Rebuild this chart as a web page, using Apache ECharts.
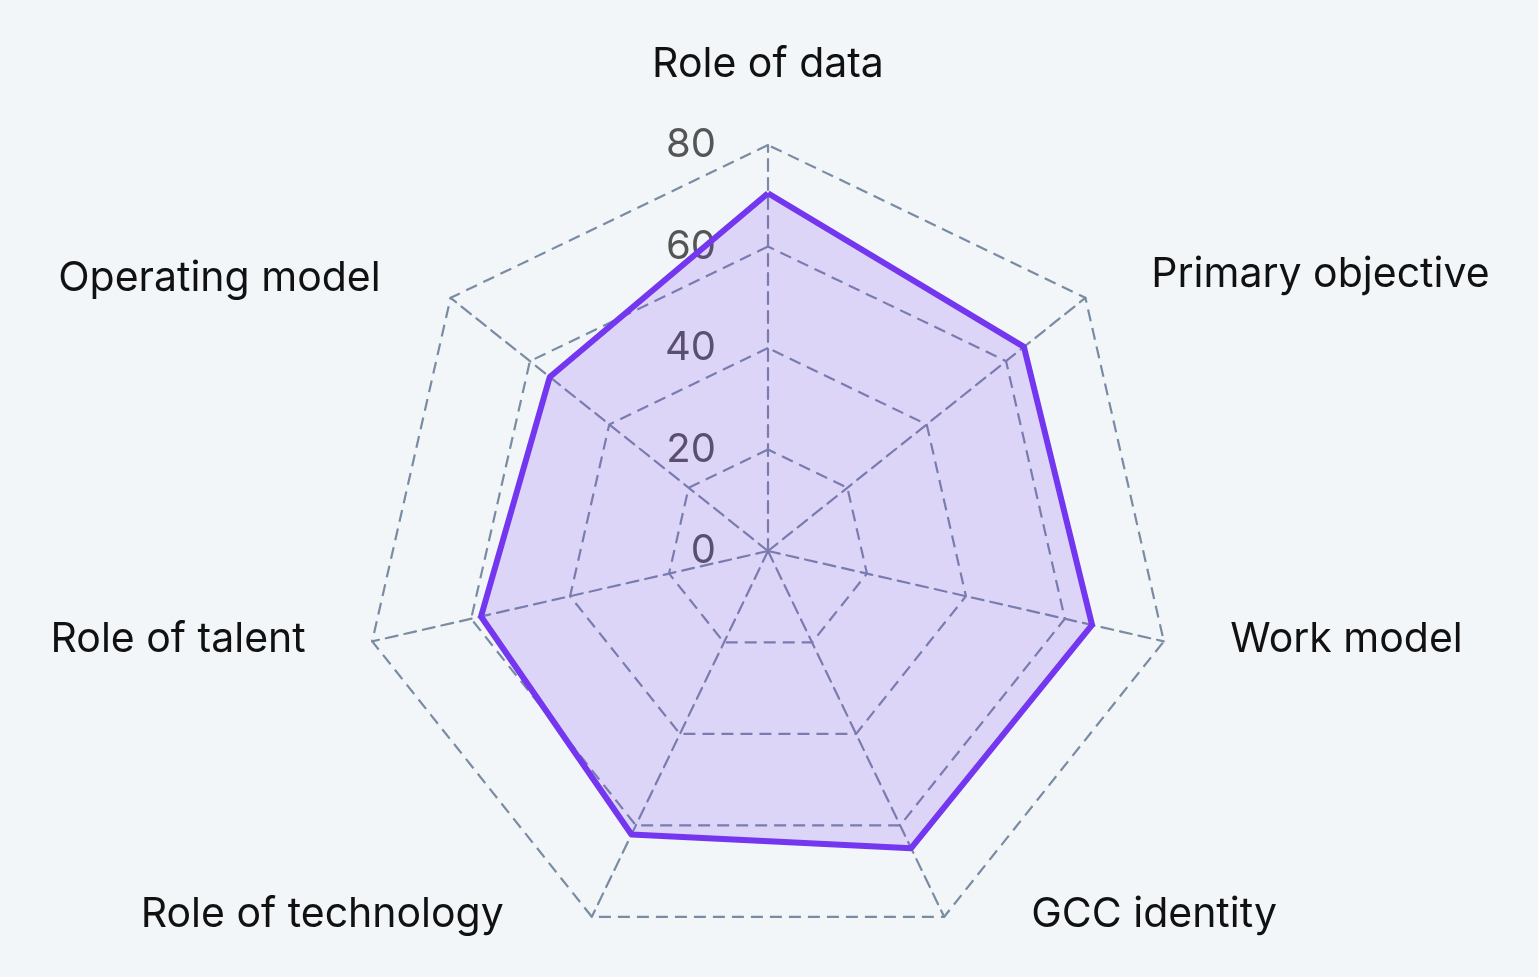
<!DOCTYPE html>
<html>
<head>
  <meta charset="utf-8">
  <script src="https://cdn.jsdelivr.net/npm/echarts@6/dist/echarts.min.js"></script>
</head>
<body style="margin:0;background:#f2f6f9;">
  <div id="container" style="width:1538px;height:977px;"></div>
  <script>
    // listed clockwise from the top
    var dimensions = ['Role of data', 'Primary objective', 'Work model', 'GCC identity',
      'Role of technology', 'Role of talent', 'Operating model'];
    var scores = [70.5, 64.5, 65.5, 65, 62, 58, 55];
    var tickValues = [0, 20, 40, 60, 80];
    var axisMax = 80;

    // echarts radar runs counter-clockwise, so keep the first one and flip the rest
    var order = [0, 6, 5, 4, 3, 2, 1];

    // nudges for the axis names (top, right, bottom, left padding)
    var namePad = {
      'Role of data': [0, 0, 0, 0],
      'Primary objective': [28, 0, 0, 19],
      'Work model': [0, 0, 30, 8],
      'GCC identity': [0, 0, 112, 61],
      'Role of technology': [0, 62, 112, 0],
      'Role of talent': [0, 8, 30, 0],
      'Operating model': [36, 23, 0, 0]
    };
    var rich = {};
    dimensions.forEach(function (d, i) {
      rich['n' + i] = { color: '#111', fontSize: 41, fontFamily: 'Inter', padding: namePad[d] };
    });

    var chart = echarts.init(document.getElementById('container'));
    var option = {
      backgroundColor: '#f2f6f9',
      textStyle: { fontFamily: 'Inter, Liberation Sans, sans-serif' },
      radar: {
        center: [768, 551],
        radius: 406,
        startAngle: 90,
        splitNumber: tickValues.length - 1,
        shape: 'polygon',
        indicator: order.map(function (i) { return { name: dimensions[i], max: axisMax, min: 0 }; }),
        axisName: {
          color: '#111',
          fontSize: 41,
          formatter: function (name) {
            return '{n' + dimensions.indexOf(name) + '|' + name + '}';
          },
          rich: rich
        },
        nameGap: 60,
        splitArea: { show: false },
        splitLine: { lineStyle: { color: '#7a8ba4', width: 2.2, type: [12, 7] } },
        axisLine: { lineStyle: { color: '#7a8ba4', width: 2.2, type: [12, 7] } },
        axisLabel: { show: false }
      },
      // polar only used to print the tick values along the top axis
      polar: { center: [768, 551], radius: 406 },
      angleAxis: { show: false, startAngle: 90, min: 0, max: 360 },
      radiusAxis: {
        min: 0, max: axisMax, interval: 20,
        axisLine: { show: false },
        axisTick: { show: false },
        splitLine: { show: false },
        axisLabel: {
          color: '#555', fontSize: 40, margin: 52, align: 'right', verticalAlign: 'middle',
          lineHeight: 48, padding: [10, 0, 0, 0]
        }
      },
      series: [{
        type: 'radar',
        symbol: 'none',
        lineStyle: { color: '#7437f0', width: 6 },
        areaStyle: { color: '#7437f0', opacity: 0.17 },
        data: [{ value: order.map(function (i) { return scores[i]; }), name: 'Score' }]
      }]
    };
    chart.setOption(option);
  </script>
</body>
</html>
